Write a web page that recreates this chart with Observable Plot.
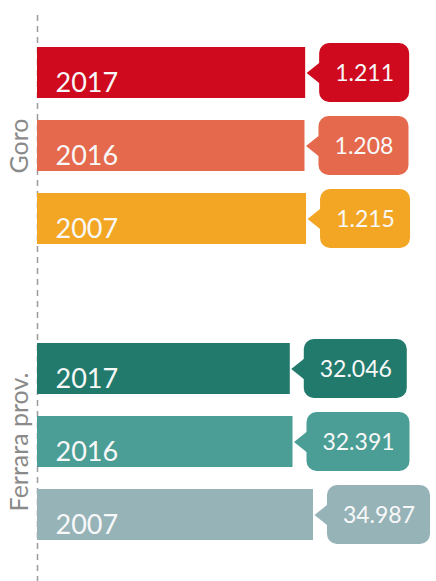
<!DOCTYPE html>
<html><head><meta charset="utf-8">
<script src="https://cdn.jsdelivr.net/npm/d3@7"></script>
<script src="https://cdn.jsdelivr.net/npm/@observablehq/plot@0.6"></script>
<style>
body{margin:0;background:#fff;}
#chart svg{display:block;}
</style></head><body><div id="chart"></div>
<script>
const groups = ["Goro", "Ferrara prov."];
const years = ["2017", "2016", "2007"];
const goroValues = [1211, 1208, 1215];
const ferraraValues = [32046, 32391, 34987];
const goroColors = ["#cf0a1e", "#e5694c", "#f3a624"];
const ferraraColors = ["#217a6c", "#4b9e95", "#96b3b8"];
const goroMax = 1400;
const ferraraMax = 39300;

const fmt = d3.formatLocale({decimal: ",", thousands: ".", grouping: [3], currency: ["", "€"]}).format(",d");

function panel(name, values, colors, xmax, h, mt, mb, topExtra, boxW) {
  const data = years.map((y, i) => ({year: y, value: values[i]}));
  return Plot.plot({
    width: 436, height: h,
    marginLeft: 37, marginRight: 89, marginTop: mt, marginBottom: mb,
    x: {domain: [0, xmax], axis: null},
    y: {domain: years, axis: null, paddingInner: 0.306, paddingOuter: 0},
    color: {domain: years, range: colors},
    style: {fontFamily: "Lato, 'Open Sans', sans-serif", background: "#fff"},
    marks: [
      Plot.ruleX([0], {stroke: "#9c9c9c", strokeWidth: 1.5, strokeDasharray: "6,5", insetTop: -topExtra, insetBottom: -mb}),
      Plot.barX(data, {x1: 0, x2: "value", y: "year", fill: "year"}),
      Plot.vector(data, {x: "value", y: "year", fill: "year", stroke: "none", shape: "spike", anchor: "start", rotate: -90, length: 15, r: 12, dx: 16}),
      Plot.barX(data, {x1: "value", x2: "value", y: "year", fill: "year", insetLeft: 14, insetRight: -(14 + boxW), insetTop: -4, insetBottom: -4, rx: 10}),
      Plot.text(data, {x: "value", y: "year", text: d => fmt(d.value), dx: 14 + boxW / 2, dy: 1, fill: "#f8f8f8", fontSize: 23, fontWeight: 400}),
      Plot.text(data, {x: 0, y: "year", text: "year", dx: 18, dy: 10, textAnchor: "start", fill: "#f8f8f8", fontSize: 27, fontWeight: 400}),
      Plot.text([name], {frameAnchor: "left", textAnchor: "middle", rotate: -90, dx: -18, fill: "#8a8a8a", fontSize: 25, fontWeight: 400})
    ]
  });
}

const root = document.getElementById("chart");
root.append(panel(groups[0], goroValues, goroColors, goroMax, 290, 47, 46, 32, 90));
root.append(panel(groups[1], ferraraValues, ferraraColors, ferraraMax, 291, 53, 41, 53, 103));
</script>
</body></html>
